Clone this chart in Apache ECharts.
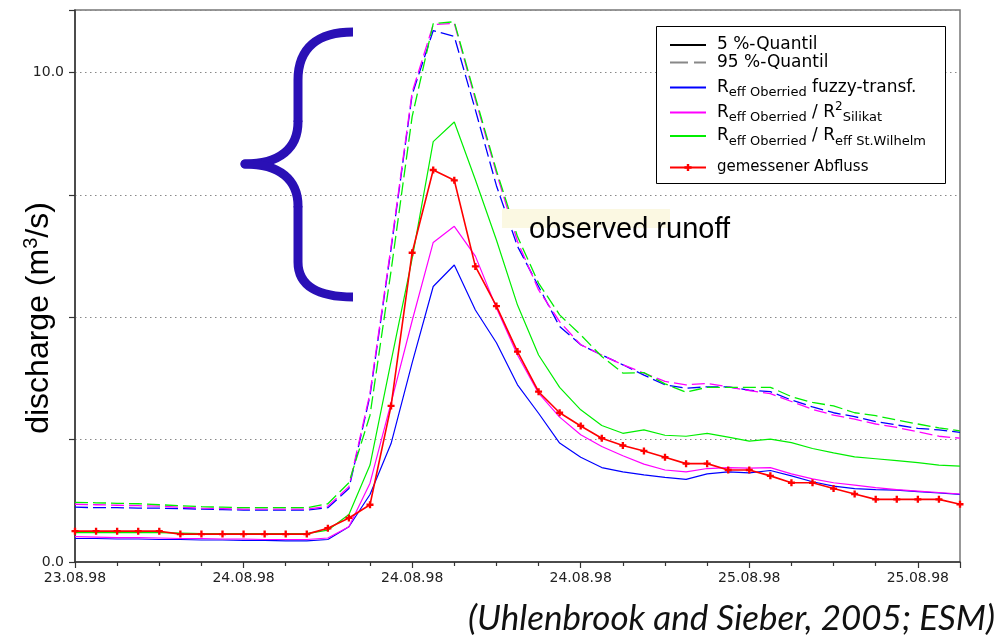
<!DOCTYPE html>
<html>
<head>
<meta charset="utf-8">
<script src="https://cdn.jsdelivr.net/npm/echarts@6/dist/echarts.min.js"></script>
<style>
html,body{margin:0;padding:0;background:#fff;}
#chart{width:1006px;height:641px;}
</style>
</head>
<body>
<div id="chart"></div>
<script>
// x positions: time step index (8 steps between labelled ticks)
const tickLabels = ['23.08.98','24.08.98','24.08.98','24.08.98','25.08.98','25.08.98'];
const yTickLabels = [0, 10];

const observed = [0.63,0.63,0.63,0.63,0.63,0.57,0.57,0.57,0.57,0.57,0.57,0.57,0.69,0.90,1.17,3.19,6.32,8.01,7.80,6.04,5.23,4.30,3.48,3.05,2.78,2.53,2.38,2.27,2.14,2.01,2.01,1.88,1.88,1.76,1.62,1.62,1.50,1.39,1.28,1.28,1.28,1.28,1.18];

const fuzzyQ05 = [0.48,0.48,0.47,0.47,0.46,0.46,0.45,0.45,0.44,0.44,0.43,0.43,0.46,0.72,1.38,2.42,4.07,5.63,6.07,5.15,4.48,3.62,3.04,2.43,2.14,1.93,1.84,1.78,1.73,1.69,1.80,1.84,1.82,1.87,1.76,1.64,1.55,1.50,1.48,1.47,1.44,1.41,1.38];
const fuzzyQ95 = [1.12,1.11,1.11,1.10,1.10,1.09,1.08,1.07,1.06,1.06,1.06,1.06,1.11,1.50,3.40,6.40,9.55,10.86,10.74,9.24,7.69,6.45,5.63,4.81,4.44,4.23,4.03,3.82,3.62,3.55,3.58,3.58,3.51,3.48,3.31,3.17,3.05,2.97,2.87,2.80,2.73,2.70,2.65];

const silikatQ05 = [0.52,0.51,0.50,0.50,0.49,0.48,0.48,0.47,0.47,0.46,0.46,0.46,0.49,0.72,1.61,3.25,4.93,6.53,6.86,6.25,5.19,4.23,3.45,2.96,2.60,2.36,2.17,2.00,1.88,1.84,1.91,1.93,1.92,1.93,1.80,1.70,1.62,1.57,1.52,1.48,1.45,1.42,1.39];
const silikatQ95 = [1.18,1.17,1.16,1.15,1.14,1.12,1.10,1.09,1.08,1.08,1.08,1.08,1.14,1.54,3.45,6.45,9.60,10.98,11.01,9.45,7.95,6.55,5.56,4.91,4.44,4.23,4.03,3.86,3.69,3.62,3.65,3.58,3.50,3.44,3.28,3.12,3.00,2.92,2.82,2.75,2.66,2.57,2.53];

const wilhelmQ05 = [0.60,0.60,0.60,0.60,0.60,0.59,0.58,0.58,0.58,0.58,0.58,0.58,0.65,0.97,1.98,4.10,6.20,8.59,8.99,7.81,6.58,5.25,4.23,3.57,3.11,2.79,2.63,2.70,2.59,2.57,2.63,2.55,2.47,2.51,2.44,2.32,2.23,2.15,2.11,2.07,2.03,1.98,1.96];
const wilhelmQ95 = [1.22,1.21,1.20,1.19,1.17,1.15,1.13,1.12,1.11,1.11,1.11,1.11,1.19,1.62,3.00,5.95,9.10,11.00,11.04,9.50,8.00,6.65,5.70,5.05,4.64,4.20,3.86,3.87,3.64,3.47,3.57,3.57,3.57,3.57,3.38,3.26,3.19,3.05,2.99,2.90,2.82,2.74,2.68];

const N_Q05 = '5 %-Quantil';
const N_Q95 = '95 %-Quantil';
const N_FUZ = 'Reff Oberried fuzzy-transf.';
const N_SIL = 'Reff Oberried / R2 Silikat';
const N_WIL = 'Reff Oberried / Reff St.Wilhelm';
const N_OBS = 'gemessener Abfluss';

const legendNames = [N_Q05, N_Q95, N_FUZ, N_SIL, N_WIL, N_OBS];
const legendLabels = {};
legendLabels[N_Q05] = '{q|5 %-Quantil}';
legendLabels[N_Q95] = '{q|95 %-Quantil}';
legendLabels[N_FUZ] = '{R0|R}{s|eff Oberried}{R| fuzzy-transf.}';
legendLabels[N_SIL] = '{R0|R}{s|eff Oberried}{R| / R}{p|2}{s|Silikat}';
legendLabels[N_WIL] = '{R0|R}{s|eff Oberried}{R| / R}{s|eff St.Wilhelm}';
legendLabels[N_OBS] = '{g|gemessener Abfluss}';

const toXY = arr => arr.map((v, i) => [i, v]);

const LF = 'DejaVu Sans';
const plus = 'path://M2,0H4V2H6V4H4V6H2V4H0V2H2Z';
const dash = [13, 5];

function lineSeries(name, data, color, dashed, width) {
  return {
    name: name, type: 'line', data: toXY(data),
    symbol: 'none', showSymbol: false, silent: true,
    lineStyle: {color: color, width: width || 1.2, type: dashed ? dash : 'solid'},
    itemStyle: {color: color},
    emphasis: {disabled: true}
  };
}

const richStyles = {
  q: {fontFamily: LF, fontSize: 17, lineHeight: 20, padding: [0, 0, 0, 6], color: '#000'},
  R0: {fontFamily: LF, fontSize: 17, lineHeight: 24, padding: [0, 0, 0, 6], color: '#000'},
  R: {fontFamily: LF, fontSize: 17, lineHeight: 24, color: '#000'},
  s: {fontFamily: LF, fontSize: 13, lineHeight: 15, verticalAlign: 'bottom', color: '#000'},
  p: {fontFamily: LF, fontSize: 12, lineHeight: 16, verticalAlign: 'top', color: '#000'},
  g: {fontFamily: LF, fontSize: 15, lineHeight: 18, padding: [0, 0, 0, 6], color: '#000'}
};

// one legend component per row so each row sits at its own height
const rowTop = [34.5, 52, 77, 100.5, 125.5, 160];
const legends = legendNames.map((nm, k) => {
  const isObs = nm === N_OBS;
  return {
    orient: 'vertical', left: 669, top: rowTop[k], padding: 0,
    itemWidth: 36, itemHeight: isObs ? 9 : 26, itemGap: 0,
    selectedMode: false,
    itemStyle: isObs ? {} : {opacity: 0},
    data: [nm],
    formatter: name => legendLabels[name],
    textStyle: {fontFamily: LF, fontSize: 17, color: '#000', rich: richStyles}
  };
});

const braceColor = '#2a10b6';
const braceStyle = {fill: 'none', stroke: braceColor, lineWidth: 9, lineCap: 'butt'};
const braceTip = {fill: 'none', stroke: braceColor, lineWidth: 9, lineCap: 'round'};

const chart = echarts.init(document.getElementById('chart'), null, {renderer: 'canvas'});
chart.setOption({
  animation: false,
  backgroundColor: '#fff',
  grid: {left: 75, right: 46, top: 10, bottom: 79, containLabel: false, outerBoundsMode: 'none',
         show: true, borderColor: '#777', borderWidth: 1.5, backgroundColor: 'transparent'},
  xAxis: {
    type: 'value', min: 0, max: 42, interval: 8,
    axisLine: {show: true, onZero: false, lineStyle: {color: '#333', width: 1.5}},
    axisTick: {show: true, length: 6, lineStyle: {color: '#333', width: 1.2}},
    minorTick: {show: true, splitNumber: 4, length: 4, lineStyle: {color: '#333', width: 1.2}},
    splitLine: {show: false},
    axisLabel: {
      margin: 9, color: '#222', fontFamily: LF, fontSize: 14,
      formatter: v => { const k = v / 8; return Number.isInteger(k) && tickLabels[k] ? tickLabels[k] : ''; }
    }
  },
  yAxis: {
    type: 'value', min: 0, max: 11.28, interval: 2.5,
    name: 'discharge (m{sup|3}/s)', nameLocation: 'middle', nameRotate: 90, nameGap: 18, nameMoveOverlap: false,
    nameTextStyle: {fontFamily: 'Liberation Sans', fontSize: 32, color: '#000', lineHeight: 36, padding: [0, 64, 0, 0],
      rich: {sup: {fontFamily: 'Liberation Sans', fontSize: 20, verticalAlign: 'top', lineHeight: 26, color: '#000'}}},
    axisLine: {show: true, lineStyle: {color: '#333', width: 1.5}},
    axisTick: {show: true, length: 6, lineStyle: {color: '#333', width: 1.2}},
    splitLine: {show: true, lineStyle: {color: '#888', type: [1.5, 3.5], width: 1}},
    axisLabel: {
      margin: 11, color: '#222', fontFamily: LF, fontSize: 14,
      formatter: v => { for (const t of yTickLabels) { if (Math.abs(v - t) < 1e-6) return t.toFixed(1); } return ''; }
    }
  },
  legend: legends,
  series: [
    {name: N_Q05, type: 'line', data: [], symbol: 'none', lineStyle: {color: '#000', width: 1}, itemStyle: {color: '#000'}},
    {name: N_Q95, type: 'line', data: [], symbol: 'none', lineStyle: {color: '#888', width: 2.5, type: [18, 6]}, itemStyle: {color: '#888'}},
    lineSeries(N_FUZ, fuzzyQ05, '#0000ff', false),
    lineSeries(N_SIL, silikatQ05, '#ff00ff', false),
    lineSeries(N_WIL, wilhelmQ05, '#00ee00', false),
    lineSeries(N_FUZ, fuzzyQ95, '#0000ff', true, 1.3),
    lineSeries(N_SIL, silikatQ95, '#ff00ff', true, 1.3),
    lineSeries(N_WIL, wilhelmQ95, '#00ee00', true, 1.3),
    {
      name: N_OBS, type: 'line', data: toXY(observed), silent: true,
      symbol: plus, symbolSize: 7, showSymbol: true,
      lineStyle: {color: '#ff0000', width: 1.6}, itemStyle: {color: '#ff0000'},
      emphasis: {disabled: true}
    }
  ],
  graphic: [
    {type: 'rect', z: 3, silent: true, shape: {x: 656.5, y: 26.5, width: 289, height: 157}, style: {fill: '#fff', stroke: '#000', lineWidth: 1}},
    {type: 'bezierCurve', z: 100, silent: true, shape: {x1: 353, y1: 32, cpx1: 318, cpy1: 32, cpx2: 298, cpy2: 48, x2: 298, y2: 80}, style: braceStyle},
    {type: 'line', z: 100, silent: true, shape: {x1: 298, y1: 80, x2: 298, y2: 122}, style: braceStyle},
    {type: 'bezierCurve', z: 100, silent: true, shape: {x1: 298, y1: 122, cpx1: 298, cpy1: 148, cpx2: 280, cpy2: 164, x2: 245, y2: 164}, style: braceTip},
    {type: 'bezierCurve', z: 100, silent: true, shape: {x1: 245, y1: 164, cpx1: 280, cpy1: 164, cpx2: 298, cpy2: 180, x2: 298, y2: 206}, style: braceTip},
    {type: 'line', z: 100, silent: true, shape: {x1: 298, y1: 206, x2: 298, y2: 262}, style: braceStyle},
    {type: 'bezierCurve', z: 100, silent: true, shape: {x1: 298, y1: 262, cpx1: 298, cpy1: 286, cpx2: 318, cpy2: 297, x2: 353, y2: 297}, style: braceStyle},
    {type: 'rect', z: 100, silent: true, shape: {x: 502, y: 209, width: 168, height: 19}, style: {fill: '#fbf8e2'}},
    {type: 'text', z: 101, silent: true, x: 529, y: 229.5,
     style: {text: 'observed runoff', fontFamily: 'Liberation Sans', fontSize: 29, fill: '#000', verticalAlign: 'middle', align: 'left'}},
    {type: 'text', z: 101, silent: true, x: 995, y: 619,
     style: {text: '(Uhlenbrook and Sieber, 2005; ESM)', fontFamily: 'Lato', fontStyle: 'italic', fontSize: 35, fill: '#111', verticalAlign: 'middle', align: 'right'}}
  ]
});
</script>
</body>
</html>
